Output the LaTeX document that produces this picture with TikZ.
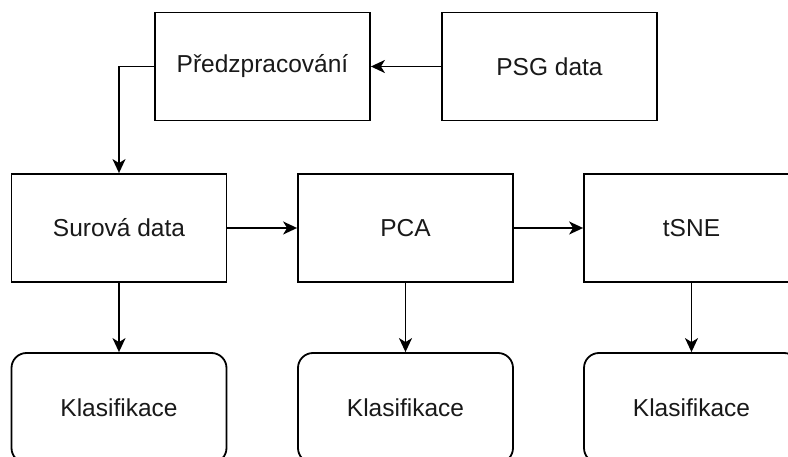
\documentclass[tikz,border=0pt]{standalone}
\usepackage{fontspec}
\setmainfont{Liberation Sans}
\usetikzlibrary{arrows.meta}
\begin{document}
\begin{tikzpicture}[x=1pt,y=-1pt,
  box/.style={draw=black, line width=1.8pt, minimum width=215pt, minimum height=108pt,
    inner sep=0pt, font=\fontsize{24.5}{29}\selectfont, text=black!90},
  roundbox/.style={box, rounded corners=15pt, minimum height=110pt},
  link/.style={line width=1.8pt, -{Stealth[length=14pt,width=13pt,inset=4pt]}}]
  \useasboundingbox (0,0) rectangle (788,457);
  \clip (0,0) rectangle (788,457);
  \fill[white] (0,0) rectangle (788,457);

  % top row
  \node[box] (pre) at (262.5,66.5) {Předzpracování};
  \node[box] (psg) at (549.5,66.5) {PSG data};

  % middle row
  \node[box] (raw) at (119,228) {Surová data};
  \node[box] (pca) at (405.5,228) {PCA};
  \node[box] (tsne) at (691.5,228) {tSNE};

  % classifiers
  \node[roundbox] (k1) at (119,408) {Klasifikace};
  \node[roundbox] (k2) at (405.5,408) {Klasifikace};
  \node[roundbox] (k3) at (691.5,408) {Klasifikace};

  % connectors
  \draw[link] (psg) -- (pre);
  \draw[link] (pre.west) -| (raw.north);
  \draw[link] (raw) -- (pca);
  \draw[link] (pca) -- (tsne);
  \draw[link] (raw) -- (k1);
  \draw[link] (pca) -- (k2);
  \draw[link] (tsne) -- (k3);
\end{tikzpicture}
\end{document}
